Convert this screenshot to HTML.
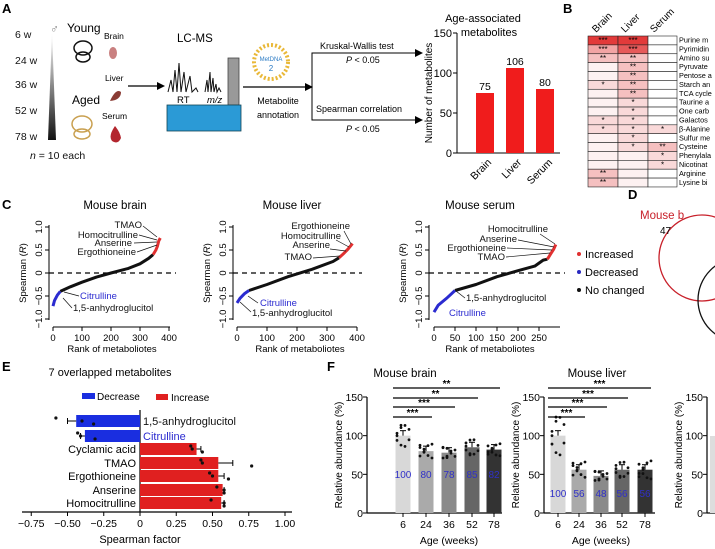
<!DOCTYPE html>
<html><head><meta charset="utf-8"><style>
html,body{margin:0;padding:0;background:#fff}
svg{display:block;font-family:"Liberation Sans",Arial,sans-serif}
</style></head><body>
<svg width="715" height="549" viewBox="0 0 715 549" xmlns="http://www.w3.org/2000/svg">
<defs>
<linearGradient id="tri" x1="0" y1="0" x2="0" y2="1"><stop offset="0" stop-color="#fff"/><stop offset="1" stop-color="#111"/></linearGradient>
</defs>
<g font-weight="bold" font-size="13"><text x="2" y="13">A</text><text x="563" y="13">B</text><text x="2" y="209">C</text><text x="628" y="199">D</text><text x="2" y="371">E</text><text x="327" y="371">F</text></g>

<!-- Panel A -->
<g font-size="10.5" fill="#111">
<text x="15" y="38">6 w</text><text x="15" y="64">24 w</text><text x="15" y="88">36 w</text><text x="15" y="114">52 w</text><text x="15" y="140">78 w</text>
<text x="30" y="159"><tspan font-style="italic">n</tspan> = 10 each</text>
</g>
<polygon points="52,32 48,140 56,140" fill="url(#tri)"/>
<text x="50" y="33" font-size="12" fill="#888">♂</text>
<text x="67" y="32" font-size="12">Young</text>
<text x="72" y="104" font-size="12">Aged</text>
<g font-size="8.5"><text x="104" y="39">Brain</text><text x="105" y="81">Liver</text><text x="102" y="119">Serum</text></g>
<g fill="none" stroke="#111" stroke-width="1.5"><ellipse cx="83" cy="48" rx="9" ry="7"/><ellipse cx="83" cy="57" rx="7" ry="5"/></g>
<g fill="none" stroke="#c9a050" stroke-width="1.5"><ellipse cx="82" cy="124" rx="10" ry="8"/><ellipse cx="82" cy="134" rx="8" ry="5"/></g>
<ellipse cx="113" cy="53" rx="4" ry="6" fill="#c98080"/>
<path d="M110,101 Q116,88 121,92 Q121,100 110,101Z" fill="#8a3b34"/>
<path d="M115,126 Q108,136 112,141 Q118,145 121,138 Q120,132 115,126Z" fill="#b3262e"/>
<line x1="128" y1="86" x2="160" y2="86" stroke="#000" stroke-width="1.3"/><polygon points="165,86 157,82 157,90"/>
<text x="177" y="42" font-size="11.5">LC-MS</text>
<polyline points="168,92 171,80 173,92 175,70 177,92 179,63 181,92 184,72 186,92 190,76 192,92 196,88 198,92" fill="none" stroke="#111" stroke-width="1"/>
<polyline points="205,92 207,80 208,92 210,72 211,92 213,78 214,92 216,84 217,92 219,88 221,92" fill="none" stroke="#111" stroke-width="1"/>
<text x="177" y="103" font-size="9.5">RT</text><text x="207" y="103" font-size="9.5" font-style="italic">m/z</text>
<rect x="228" y="58" width="11" height="47" fill="#999" stroke="#444" stroke-width="0.8"/>
<rect x="167" y="105" width="74" height="26" fill="#2b9ad6" stroke="#145" stroke-width="0.8"/>
<circle cx="271" cy="62" r="17" fill="none" stroke="#e9b838" stroke-width="4" stroke-dasharray="2 2"/>
<text x="271" y="61" font-size="6" fill="#2b7bc4" text-anchor="middle">MetDNA</text><text x="271" y="71" font-size="8" fill="#2b7bc4" text-anchor="middle">2</text>
<line x1="243" y1="87" x2="307" y2="87" stroke="#000" stroke-width="1.3"/><polygon points="313,87 305,83 305,91"/>
<text x="278" y="104" font-size="9" text-anchor="middle">Metabolite</text><text x="278" y="118" font-size="9" text-anchor="middle">annotation</text>
<polyline points="417,53 312,53 312,120 417,120" fill="none" stroke="#000" stroke-width="1"/>
<polygon points="423,53 415,49 415,57"/><polygon points="423,120 415,116 415,124"/>
<text x="320" y="49" font-size="9">Kruskal-Wallis test</text><text x="346" y="63" font-size="9"><tspan font-style="italic">P</tspan> &lt; 0.05</text>
<text x="316" y="112" font-size="9">Spearman correlation</text><text x="346" y="132" font-size="9"><tspan font-style="italic">P</tspan> &lt; 0.05</text>

<text x="483" y="22" font-size="11" text-anchor="middle">Age-associated</text><text x="489" y="36" font-size="11" text-anchor="middle">metabolites</text>
<line x1="457" y1="33" x2="457" y2="153" stroke="#000"/><line x1="457" y1="153" x2="560" y2="153" stroke="#000"/>
<g stroke="#000"><line x1="453" y1="33" x2="457" y2="33"/><line x1="453" y1="73" x2="457" y2="73"/><line x1="453" y1="113" x2="457" y2="113"/><line x1="453" y1="153" x2="457" y2="153"/></g>
<g font-size="11" text-anchor="end"><text x="452" y="37">150</text><text x="452" y="77">100</text><text x="452" y="117">50</text><text x="452" y="157">0</text></g>
<text transform="translate(432,93) rotate(-90)" font-size="10" text-anchor="middle">Number of metabolites</text>
<rect x="476" y="93" width="18" height="60" fill="#f01c1c"/><rect x="506" y="68" width="18" height="85" fill="#f01c1c"/><rect x="536" y="89" width="18" height="64" fill="#f01c1c"/>
<g font-size="10.5" text-anchor="middle"><text x="485" y="90">75</text><text x="515" y="65">106</text><text x="545" y="86">80</text></g>
<g font-size="10.5" text-anchor="end"><text transform="translate(492,163) rotate(-45)">Brain</text><text transform="translate(522,163) rotate(-45)">Liver</text><text transform="translate(553,163) rotate(-45)">Serum</text></g>

<!-- Panel B -->
<g font-size="10"><text transform="translate(596,33) rotate(-45)">Brain</text><text transform="translate(625,33) rotate(-45)">Liver</text><text transform="translate(654,33) rotate(-45)">Serum</text></g>
<g id="hm"></g>
<g font-size="7.3">
<text x="679" y="42.5">Purine m</text><text x="679" y="51.4">Pyrimidin</text><text x="679" y="60.3">Amino su</text><text x="679" y="69.2">Pyruvate</text><text x="679" y="78">Pentose a</text><text x="679" y="86.9">Starch an</text><text x="679" y="95.8">TCA cycle</text><text x="679" y="104.7">Taurine a</text><text x="679" y="113.6">One carb</text><text x="679" y="122.5">Galactos</text><text x="679" y="131.4">β-Alanine</text><text x="679" y="140.3">Sulfur me</text><text x="679" y="149.2">Cysteine</text><text x="679" y="158.1">Phenylala</text><text x="679" y="167">Nicotinat</text><text x="679" y="175.9">Arginine</text><text x="679" y="184.8">Lysine bi</text>
</g>

<!-- D -->
<text x="640" y="219" font-size="11.5" fill="#c8202a">Mouse b</text>
<circle cx="702" cy="258" r="43" fill="none" stroke="#c8202a" stroke-width="1.3"/>
<circle cx="740" cy="300" r="42" fill="none" stroke="#111" stroke-width="1.3"/>
<text x="660" y="234" font-size="10">47</text>

<!-- C plots -->
<g id="cplots" font-size="9.5"></g>
<g font-size="11"><circle cx="579" cy="254" r="2" fill="#e03030"/><text x="585" y="258">Increased</text>
<circle cx="579" cy="272" r="2" fill="#2828c0"/><text x="585" y="276">Decreased</text>
<circle cx="579" cy="290" r="2" fill="#111"/><text x="585" y="294">No changed</text></g>

<!-- E -->
<text x="110" y="376" font-size="11" text-anchor="middle">7 overlapped metabolites</text>
<rect x="82" y="393" width="13" height="6" fill="#1a2ee0"/><text x="97" y="400" font-size="10">Decrease</text>
<rect x="156" y="394" width="12" height="6" fill="#e02020"/><text x="171" y="401" font-size="10">Increase</text>
<g id="epl"></g>

<!-- F -->
<g id="fpl"></g>
</svg>
<script>
var NS="http://www.w3.org/2000/svg";
function el(p,t,a,txt){var e=document.createElementNS(NS,t);for(var k in a)e.setAttribute(k,a[k]);if(txt!=null)e.textContent=txt;p.appendChild(e);return e;}
var hm=document.getElementById('hm');
var rows=[["***","***",""],["***","***",""],["**","**",""],["","**",""],["","**",""],["*","**",""],["","**",""],["","*",""],["","*",""],["*","*",""],["*","*","*"],["","*",""],["","*","**"],["","","*"],["","","*"],["**","",""],["**","",""]];
var cx=[588,618,648],cw=[30,30,29],rh=8.88;
rows.forEach(function(r,i){r.forEach(function(s,j){var c;
 if(i<2&&s=="***"){c=(i==0)?"#e23a3a":(j==0?"#f2a4a4":"#e65a5a");}
 else if(s=="**")c="#f5c0c0";else if(s=="*")c="#f9d9d9";else c=(j==2?"#fff":"#fdf1f1");
 el(hm,'rect',{x:cx[j],y:36+i*rh,width:cw[j],height:rh,fill:c,stroke:"#222","stroke-width":0.6});
 if(s)el(hm,'text',{x:cx[j]+cw[j]/2,y:36+i*rh+7,"font-size":8,"text-anchor":"middle"},s);});});
var cp=document.getElementById('cplots');
function yR(R){return 273-R*46;}
function cplot(o){
 el(cp,'text',{x:o.tx,y:209,"font-size":11.5,"text-anchor":"middle"},o.title);
 el(cp,'line',{x1:o.ax,y1:225,x2:o.ax,y2:320,stroke:"#000"});
 el(cp,'line',{x1:o.x0,y1:327,x2:o.xe,y2:327,stroke:"#000"});
 [1,0.5,0,-0.5,-1].forEach(function(v){var y=yR(v);el(cp,'line',{x1:o.ax-4,y1:y,x2:o.ax,y2:y,stroke:"#000"});
  var lab=v==1?"1.0":v==-1?"−1.0":v==0.5?"0.5":v==-0.5?"−0.5":"0";
  el(cp,'text',{transform:"translate("+(o.ax-7)+","+y+") rotate(-90)","text-anchor":"middle"},lab);});
 el(cp,'text',{transform:"translate("+(o.ax-23)+",273) rotate(-90)","text-anchor":"middle"}).innerHTML='Spearman (<tspan font-style="italic">R</tspan>)';
 o.ticks.forEach(function(t){var x=o.x0+t*o.s;el(cp,'line',{x1:x,y1:327,x2:x,y2:331,stroke:"#000"});el(cp,'text',{x:x,y:341,"text-anchor":"middle"},t);});
 el(cp,'text',{x:o.lx,y:352,"text-anchor":"middle"},"Rank of metaboliotes");
 el(cp,'line',{x1:o.ax,y1:273,x2:o.de,y2:273,stroke:"#000","stroke-dasharray":"5 4","stroke-width":1.3});
 function pts(a){return a.map(function(p){return (o.x0+p[0]*o.s).toFixed(1)+","+yR(p[1]).toFixed(1)}).join(" ");}
 el(cp,'polyline',{points:pts(o.blk),fill:"none",stroke:"#111","stroke-width":3,"stroke-linejoin":"round"});
 el(cp,'polyline',{points:pts(o.blue),fill:"none",stroke:"#2b2bd0","stroke-width":3});
 el(cp,'polyline',{points:pts(o.red),fill:"none",stroke:"#e03030","stroke-width":3});
 o.labels.forEach(function(l){el(cp,'text',{x:l[0],y:l[1],"text-anchor":l[2],fill:l[3]||"#111","font-size":9.5},l[4]);
  if(l[5])el(cp,'line',{x1:l[5][0],y1:l[5][1],x2:l[5][2],y2:l[5][3],stroke:"#111","stroke-width":0.7});});
}
cplot({title:"Mouse brain",tx:115,ax:49,x0:53,xe:170,s:0.29,de:176,lx:112,ticks:[0,100,200,300,400],
 blue:[[0,-0.72],[5,-0.6],[15,-0.48],[25,-0.4]],
 blk:[[25,-0.4],[60,-0.3],[100,-0.2],[150,-0.09],[200,0],[260,0.1],[300,0.2],[330,0.32],[345,0.4]],
 red:[[345,0.4],[355,0.5],[360,0.58],[365,0.7],[370,0.76]],
 labels:[[142,228,"end",0,"TMAO",[143,226,157,237]],[138,238,"end",0,"Homocitrulline",[139,235,157,240]],[132,246,"end",0,"Anserine",[134,243,157,242]],[136,255,"end",0,"Ergothioneine",[137,252,157,245]],
 [80,299,"start","#2b2bd0","Citrulline",[79,296,64,292]],[73,311,"start",0,"1,5-anhydroglucitol",[72,308,63,298]]]});
cplot({title:"Mouse liver",tx:292,ax:233,x0:237,xe:357,s:0.3,de:362,lx:300,ticks:[0,100,200,300,400],
 blue:[[0,-0.65],[10,-0.55],[25,-0.45],[40,-0.38]],
 blk:[[40,-0.38],[100,-0.25],[170,-0.08],[250,0.08],[320,0.25],[340,0.33]],
 red:[[340,0.33],[355,0.42],[370,0.52],[385,0.64]],
 labels:[[350,229,"end",0,"Ergothioneine",[344,231,351,244]],[341,239,"end",0,"Homocitrulline",[336,240,349,247]],[330,248,"end",0,"Anserine",[330,249,346,251]],[312,260,"end",0,"TMAO",[313,258,340,256]],
 [260,306,"start","#2b2bd0","Citrulline",[258,303,248,296]],[252,316,"start",0,"1,5-anhydroglucitol",[251,312,240,302]]]});
cplot({title:"Mouse serum",tx:480,ax:429,x0:434,xe:560,s:0.42,de:565,lx:490,ticks:[0,50,100,150,200,250],
 blue:[[0,-0.85],[10,-0.7],[30,-0.55],[50,-0.38]],
 blk:[[50,-0.38],[100,-0.25],[150,-0.08],[200,0.05],[240,0.15],[260,0.28],[270,0.3]],
 red:[[270,0.3],[278,0.42],[285,0.52],[290,0.62]],
 labels:[[548,232,"end",0,"Homocitrulline",[540,234,555,244]],[517,242,"end",0,"Anserine",[518,240,554,247]],[506,251,"end",0,"Ergothioneine",[507,248,552,250]],[505,260,"end",0,"TMAO",[506,257,550,253]],
 [466,301,"start",0,"1,5-anhydroglucitol",[465,298,456,291]],[449,316,"start","#2b2bd0","Citrulline"]]});
var ep=document.getElementById('epl');var z=140,sc=145;
el(ep,'line',{x1:22,y1:512,x2:292,y2:512,stroke:"#000","stroke-width":1.2});
el(ep,'line',{x1:z,y1:410,x2:z,y2:512,stroke:"#000","stroke-width":1.2});
[-0.75,-0.5,-0.25,0,0.25,0.5,0.75,1].forEach(function(v){var x=z+v*sc;el(ep,'line',{x1:x,y1:512,x2:x,y2:516,stroke:"#000"});
 el(ep,'text',{x:x,y:527,"font-size":10.5,"text-anchor":"middle"},v==0?"0":(v<0?"−":"")+Math.abs(v).toFixed(2));});
el(ep,'text',{x:140,y:543,"font-size":11,"text-anchor":"middle"},"Spearman factor");
var eb=[["1,5-anhydroglucitol",-0.44,415,"#1a2ee0",0.06,[-0.58,-0.4,-0.32]],["Citrulline",-0.38,430,"#1a2ee0",0.03,[-0.43,-0.41,-0.31]],
["Cyclamic acid",0.39,443,"#e02020",0.03,[0.35,0.36,0.43]],["TMAO",0.54,457,"#e02020",0.1,[0.42,0.43,0.77]],["Ergothioneine",0.54,470,"#e02020",0.04,[0.48,0.5,0.61]],["Anserine",0.57,484,"#e02020",0.01,[0.53,0.58,0.58]],["Homocitrulline",0.56,497,"#e02020",0.02,[0.49,0.58,0.58]]];
eb.forEach(function(b){var x1=z+Math.min(0,b[1])*sc,w=Math.abs(b[1])*sc;
 el(ep,'rect',{x:x1,y:b[2],width:w,height:12,fill:b[3]});
 var xe=z+b[1]*sc,xx=z+(b[1]+(b[1]<0?-b[4]:b[4]))*sc;el(ep,'line',{x1:xe,y1:b[2]+6,x2:xx,y2:b[2]+6,stroke:"#000"});el(ep,'line',{x1:xx,y1:b[2]+3,x2:xx,y2:b[2]+9,stroke:"#000"});
 b[5].forEach(function(v,i){el(ep,'circle',{cx:z+v*sc,cy:b[2]+3+i*3,r:1.6,fill:"#111"});});
 if(b[1]<0)el(ep,'text',{x:143,y:b[2]+10,"font-size":11,fill:b[0]=="Citrulline"?"#2b2bd0":"#111"},b[0]);
 else el(ep,'text',{x:136,y:b[2]+10,"font-size":11,"text-anchor":"end"},b[0]);});
var fp=document.getElementById('fpl');
function fplot(o){
 el(fp,'text',{x:o.tx,y:377,"font-size":11.5,"text-anchor":"middle"},o.title);
 el(fp,'line',{x1:o.ax,y1:397,x2:o.ax,y2:513,stroke:"#000","stroke-width":1.2});
 el(fp,'line',{x1:o.ax,y1:513,x2:o.xe,y2:513,stroke:"#000","stroke-width":1.2});
 [0,50,100,150].forEach(function(v){var y=513-v*116/150;el(fp,'line',{x1:o.ax-4,y1:y,x2:o.ax,y2:y,stroke:"#000"});el(fp,'text',{x:o.ax-4,y:y+4,"font-size":10.5,"text-anchor":"end"},v);});
 el(fp,'text',{transform:"translate("+(o.ax-25)+",455) rotate(-90)","font-size":10,"text-anchor":"middle"},"Relative abundance (%)");
 if(!o.bars)return;
 var cols=["#d8d8d8","#aaaaaa","#8a8a8a","#666666","#333333"],ages=[6,24,36,52,78];
 o.bars.forEach(function(v,i){var c=o.c[i],y=513-v*116/150;
  el(fp,'rect',{x:c-7.5,y:y,width:15,height:513-y,fill:cols[i]});
  el(fp,'line',{x1:c,y1:y,x2:c,y2:y-5,stroke:"#000"});el(fp,'line',{x1:c-3,y1:y-5,x2:c+3,y2:y-5,stroke:"#000"});
  for(var k=0;k<10;k++){var dv=v+Math.sin(k*2.3+i)*o.sp[i];el(fp,'circle',{cx:c-6+(k%4)*4,cy:513-dv*116/150,r:1.4,fill:"#111"});}
  el(fp,'text',{x:c,y:o.ny,"font-size":10,"text-anchor":"middle",fill:"#3030c8"},v);
  el(fp,'line',{x1:c,y1:513,x2:c,y2:517,stroke:"#000"});
  el(fp,'text',{x:c,y:528,"font-size":10.5,"text-anchor":"middle"},ages[i]);});
 el(fp,'text',{x:o.c[2],y:544,"font-size":10.5,"text-anchor":"middle"},"Age (weeks)");
 o.sig.forEach(function(s,j){var y=[417,407,398,388][j];el(fp,'line',{x1:o.c[0]-10,y1:y,x2:o.c[j+1]+6,y2:y,stroke:"#000","stroke-width":1.2});
  el(fp,'text',{x:(o.c[0]-10+o.c[j+1]+6)/2,y:y-1,"font-size":10,"text-anchor":"middle","font-weight":"bold"},s);});
}
fplot({title:"Mouse brain",tx:405,ax:367,xe:502,c:[403,426,449,472,494],bars:[100,80,78,85,82],sp:[14,9,7,10,8],ny:478,sig:["***","***","**","**"]});
fplot({title:"Mouse liver",tx:597,ax:544,xe:655,c:[558,579,601,622,645],bars:[100,56,48,56,56],sp:[25,10,6,10,12],ny:497,sig:["***","***","***","***"]});
fplot({title:"",tx:0,ax:707,xe:715});
el(fp,'rect',{x:710,y:436,width:5,height:77,fill:"#ddd"});
</script>
</body></html>
